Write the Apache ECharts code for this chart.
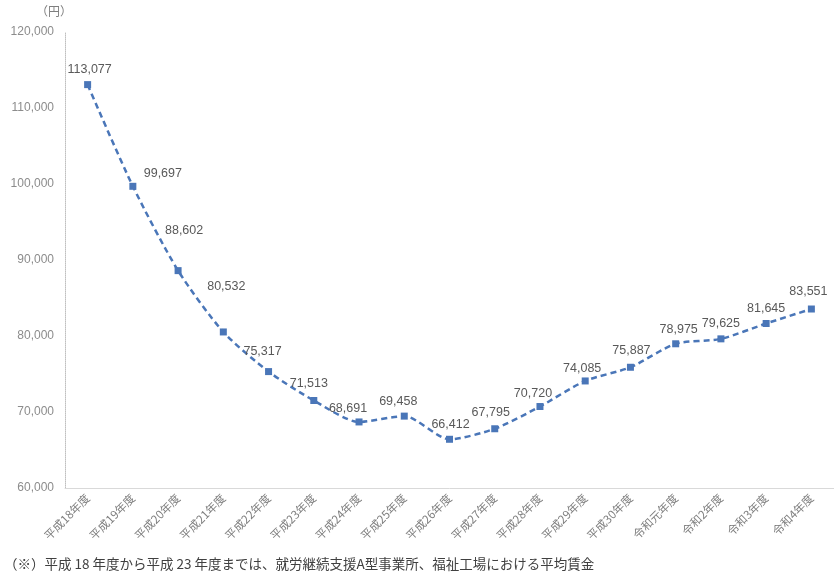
<!DOCTYPE html>
<html>
<head>
<meta charset="utf-8">
<script src="https://cdn.jsdelivr.net/npm/echarts@6/dist/echarts.min.js"></script>
<style>
html,body{margin:0;padding:0;background:#fff;}
#chart{width:834px;height:578px;}
</style>
</head>
<body>
<div id="chart"></div>
<script>
const categories = ['平成18年度','平成19年度','平成20年度','平成21年度','平成22年度','平成23年度','平成24年度','平成25年度','平成26年度','平成27年度','平成28年度','平成29年度','平成30年度','令和元年度','令和2年度','令和3年度','令和4年度'];
const wages = [113077, 99697, 88602, 80532, 75317, 71513, 68691, 69458, 66412, 67795, 70720, 74085, 75887, 78975, 79625, 81645, 83551];
const yTicks = { min: 60000, max: 120000, interval: 10000 };
const unitLabel = '（円）';
const footnote = '（※）平成 18 年度から平成 23 年度までは、就労継続支援A型事業所、福祉工場における平均賃金';

// label nudges (style only)
const labelOffsets = [[2,0],[30,2],[6,-25],[3,-30],[-6,-5],[-5,-2],[-11,2],[-6,0],[1,0],[-4,-1],[-7,2],[-3,3],[1,-2],[3,1],[0,0],[0,0],[-3,-2]];

const seriesData = wages.map((v, i) => ({
  value: v,
  label: { offset: labelOffsets[i] }
}));

const chart = echarts.init(document.getElementById('chart'));
chart.setOption({
  animation: false,
  backgroundColor: '#ffffff',
  grid: { left: 65, right: -3, top: 32, bottom: 90, containLabel: false },
  xAxis: {
    type: 'category',
    data: categories,
    boundaryGap: true,
    axisLine: { lineStyle: { color: '#d9d9d9', width: 1 } },
    axisTick: { show: false },
    axisLabel: { rotate: 45, color: '#7f7f7f', fontSize: 11.5, margin: 8, interval: 0, fontFamily: 'Noto Sans CJK JP' }
  },
  yAxis: {
    type: 'value',
    min: yTicks.min, max: yTicks.max, interval: yTicks.interval,
    axisLine: { show: true, lineStyle: { color: '#bfbfbf', type: 'dotted', width: 1 } },
    axisTick: { show: false },
    splitLine: { show: false },
    axisLabel: { color: '#8c8c8c', fontSize: 12, margin: 11, fontFamily: 'Liberation Sans',
      formatter: v => v.toLocaleString('en-US') }
  },
  graphic: [
    { type: 'text', left: 36, top: 5, style: { text: unitLabel, fill: '#7f7f7f', fontSize: 12, fontFamily: 'Noto Sans CJK JP' } },
    { type: 'text', left: 4, top: 557, style: { text: footnote, fill: '#404040', fontSize: 13.5, fontFamily: 'Noto Sans CJK JP' } }
  ],
  series: [{
    type: 'line',
    data: seriesData,
    smooth: 0.25,
    symbol: 'rect',
    symbolSize: 7,
    lineStyle: { color: '#4a76b8', width: 2.5, type: [6, 4] },
    itemStyle: { color: '#4a76b8' },
    label: { show: true, position: 'top', distance: 5, color: '#595959', fontSize: 12.5, fontFamily: 'Liberation Sans',
      formatter: p => p.value.toLocaleString('en-US') }
  }]
});
</script>
</body>
</html>
